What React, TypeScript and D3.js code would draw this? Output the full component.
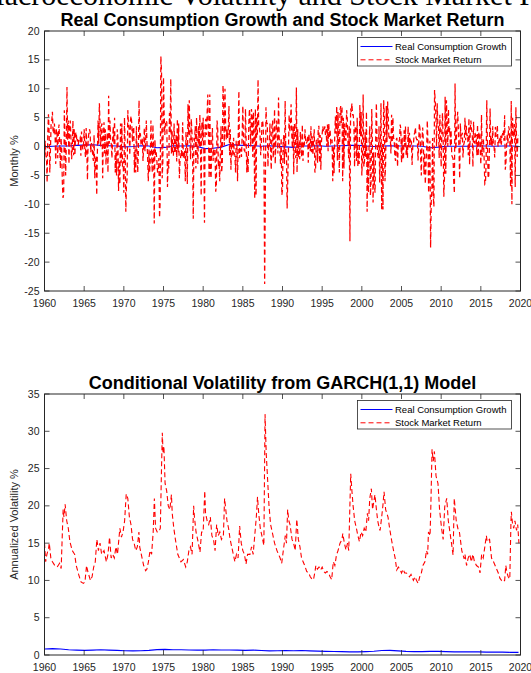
import React from 'react';
import * as d3 from 'd3';

const W = 531;
const H = 673;

const xTicks = [1960, 1965, 1970, 1975, 1980, 1985, 1990, 1995, 2000, 2005, 2010, 2015, 2020];
const topYTicks = [-25, -20, -15, -10, -5, 0, 5, 10, 15, 20];
const botYTicks = [0, 5, 10, 15, 20, 25, 30, 35];
const seriesNames = ['Real Consumption Growth', 'Stock Market Return'];

// Monthly real stock market returns (%), Jan 1960 onwards
const ret1960s = [
  -2.5, 1.0, -1.5, -1.8, -6.2, 2.5, 5.6, 2.4, -4.5, -0.5, 4.0, 4.5,
  6.0, 2.5, 2.2, 4.0, 2.0, -3.0, 3.0, 2.2, -2.0, 2.6, 3.8, 0.2,
  -3.8, 1.5, -0.6, -6.3, -8.9, -8.3, 6.3, 1.5, -5.0, 0.4, 10.3, 1.2,
  4.5, -3.0, 3.4, 4.5, 1.4, -2.2, -0.5, 4.5, -1.5, 3.0, -1.5, 2.2,
  2.5, 0.8, 1.3, 0.3, 1.2, 1.4, 1.6, -1.6, 2.6, 0.5, -0.5, 0.3,
  3.0, -0.5, -1.8, 3.2, -0.7, -5.8, 1.3, 2.2, 3.0, 2.5, -1.0, 0.6,
  0.2, -1.8, -2.5, 2.0, -5.5, -1.9, -1.6, -8.4, -1.0, 4.5, 0.5, 7.5,
  4.0, 0.0, 3.6, 4.0, -5.5, 1.5, 4.2, -1.2, 3.0, -3.2, 0.0, 2.4,
  -4.5, 8.8, 0.5, 4.5, 1.0, 0.5, -2.0, 1.0, 3.5, 0.5, 5.0, -4.5,
  -1.0, -5.0, 3.0, 1.5, -7.7, -2.5, -6.5, 4.0, -2.8, 4.0, -3.5, -2.5,
];
const ret1970s = [
  -8.0, 5.0, 0.0, -11.3, -6.5, -5.5, 6.3, 4.0, 3.0, -1.5, 4.5, 5.3,
  4.0, 0.8, 3.4, 3.2, -4.5, -0.5, -4.5, 3.5, -1.0, -4.5, -0.8, 8.0,
  1.5, 2.3, 0.4, 0.2, 1.5, -2.5, 0.0, 3.2, -0.8, 0.7, 4.5, 0.8,
  -2.0, -6.0, -0.5, -4.5, -2.2, 4.5, -1.0, -4.5, 3.8, -0.5, -13.3, 1.2,
  -1.5, -1.0, -2.5, -4.5, -4.0, -2.0, -12.3, -9.5, 15.6, 13.0, -5.5, -2.8,
  12.0, 5.5, 2.0, 4.2, 4.5, 4.2, -7.0, -2.5, -3.8, 5.8, 2.3, 11.7,
  -1.2, 2.8, -1.5, -1.5, 4.0, -1.2, -0.5, 2.0, -2.6, 4.8, -1.0, 4.0,
  -5.5, -2.5, -1.8, -0.6, -1.8, 4.2, -1.8, -2.0, -0.7, -6.0, 2.5, 0.0,
  -6.5, 7.3, 2.0, 8.0, 0.5, -2.2, 4.8, 2.5, -1.0, -12.5, 1.2, 1.0,
  3.5, -3.8, 5.0, -0.6, -3.0, 3.5, 0.0, 5.5, -0.8, -8.5, 4.2, 1.0,
];
const ret1980s = [
  5.0, -1.2, -13.2, 3.5, 4.8, 2.0, 5.8, 9.0, 2.0, -5.5, 9.0, -4.5,
  -5.5, 1.0, 3.2, -2.5, -0.5, -1.5, -0.6, -7.8, -6.5, 4.5, 3.0, -3.5,
  -2.5, -6.0, -1.3, 3.5, -4.5, -2.5, 10.6, 8.0, 0.2, 10.0, 3.5, 1.2,
  3.0, 1.5, 3.0, 7.0, -1.5, 3.0, -4.0, 0.5, 0.8, -1.8, 1.5, -1.2,
  -1.5, -4.5, 1.0, 0.2, -6.0, 1.5, 9.6, -2.0, -0.5, -0.5, -1.8, 2.0,
  7.0, 0.8, -0.6, -0.8, 6.5, 1.0, -4.5, -1.5, -4.5, 3.8, 6.5, 4.2,
  0.0, 6.5, 5.0, -1.8, 6.0, 1.2, -9.0, 6.5, -8.5, 5.0, 1.8, 11.6,
  3.5, 3.5, 2.0, -1.5, 0.5, 4.5, 4.5, 3.0, -2.8, -23.8, -8.5, 6.8,
  4.0, 4.0, -3.5, 0.5, 0.0, 4.0, -1.0, -4.0, 3.5, 4.5, -2.0, 1.2,
  6.5, -3.0, 1.8, 4.5, 3.5, -1.2, 8.5, 1.5, -0.8, -3.0, 1.5, -8.4,
];
const ret1990s = [
  -7.5, 0.8, 2.0, -3.0, 7.9, -1.2, -0.8, -10.7, -5.5, -0.8, 5.5, 2.5,
  4.0, 7.3, 2.0, -0.3, 3.5, -4.8, 4.0, 2.0, -2.0, 10.2, -4.5, 3.0,
  -2.0, 1.0, -2.2, 2.5, 0.3, -1.8, 3.8, -2.5, 0.8, 0.2, 3.0, 1.0,
  0.5, 0.8, 1.8, -2.8, 2.2, 0.0, -0.8, 3.5, -1.0, 1.8, -1.5, 1.0,
  3.0, -4.5, -4.0, 1.0, 1.2, -2.8, 3.0, 3.6, -2.8, 2.0, -4.0, 1.0,
  2.2, 3.5, 2.6, 2.6, 3.5, 2.0, 3.0, 0.0, 3.8, -0.8, 4.0, 1.5,
  3.0, 0.5, 0.6, 1.2, -6.0, 0.0, -4.6, 1.8, 5.2, 2.2, 7.0, -2.4,
  6.0, 0.3, -4.5, 6.3, 7.0, 4.0, 7.0, -6.0, 5.0, -3.8, 4.0, 1.5,
  1.0, 6.3, 4.8, 0.8, -2.0, 3.5, -16.4, 6.6, 6.0, 7.5, 5.5, 5.5,
  3.8, -3.5, 3.5, 3.5, -2.5, 5.0, -3.5, -0.8, -3.0, 7.2, 1.8, 6.0,
];
const ret2000s = [
  -5.0, -1.5, 9.0, -3.5, -2.5, 2.5, -1.8, 6.0, -11.3, -1.0, -8.0, 0.8,
  3.5, -8.5, -6.0, 6.5, 0.5, -9.7, -1.0, -6.5, -8.0, 1.8, 7.5, 0.8,
  -1.5, -2.0, 3.5, -6.2, -1.0, 7.5, -11.0, 0.5, -10.9, 8.0, 5.5, -6.0,
  -2.8, 7.0, 0.8, 7.8, 5.0, 1.2, 1.5, 1.8, -1.2, 5.5, 0.7, 5.0,
  1.5, 1.0, -1.8, -2.5, 1.2, 1.5, -3.5, 0.0, 0.8, 1.2, 3.8, 3.0,
  -2.8, 1.5, -2.2, -2.2, 2.8, 0.0, 3.5, -1.4, 0.0, -2.0, 3.5, -0.1,
  2.4, -0.2, 1.0, 0.8, -3.2, 0.0, 0.3, 2.0, 2.4, 3.3, 1.6, 1.2,
  1.2, -2.4, 0.8, 4.0, 3.0, -1.9, -5.0, 1.0, 3.3, 1.2, -4.8, -1.0,
  -6.5, -3.5, -0.8, 4.5, 0.8, -8.0, -1.2, 1.0, -17.5, -9.5, -7.5, 1.5,
  -8.5, -10.4, 9.8, 8.0, 5.5, 0.0, 7.5, 3.5, 3.5, -2.0, 5.5, 1.8,
];
const ret2010s = [
  -3.5, 2.9, 5.8, 1.5, -8.7, -5.5, 8.6, -4.7, 8.0, 3.7, 0.0, 6.5,
  2.3, 3.2, 0.0, 2.8, -1.5, -1.8, -2.1, -6.0, -8.1, 10.9, -0.5, 1.0,
  4.4, 6.0, 3.1, -0.7, -5.5, 4.0, 1.3, 2.0, 2.4, -1.9, 0.3, 0.7,
  5.0, 1.1, 3.6, 1.8, 2.1, -1.5, 4.9, -3.1, 3.0, 4.5, 2.8, 2.4,
  -3.5, 4.3, 0.7, 0.6, 2.1, 1.9, -1.5, 3.8, -1.6, 2.3, 2.5, -0.4,
  -3.1, 5.5, -1.7, 0.8, 1.0, -2.1, -6.5, -6.3, -2.6, 8.0, 0.1, -5.5,
  -5.0, -0.4, 6.6, 0.3, 1.5, 0.1, 3.5, 0.0, 0.0, -1.9, 3.4, 1.8,
  1.8, 3.7, 0.0, 0.9, 1.2, 0.5, 1.9, 0.3, 1.9, 2.2, 2.8, 1.0,
  5.4, -4.0, -2.7, 0.3, 2.2, 0.5, 3.5, 3.0, 0.4, -7.0, 7.9, -10.0,
  5.0, 3.0, 1.7, 3.9, -7.0, 6.8, 1.3, -1.8, 1.7, 2.0,
];

// Real consumption growth (%), sampled once per year from 1960
const consGrowth = [
  -0.05, 0.05, 0.1, 0.1, 0.2, 0.25, 0.3, 0.2, 0.15, 0.1,
  -0.05, 0.0, 0.15, 0.1, -0.2, -0.15, 0.15, 0.1, 0.15, 0.0,
  -0.35, -0.3, -0.1, 0.35, 0.25, 0.2, 0.15, 0.05, 0.15, 0.05,
  -0.05, -0.15, 0.1, 0.1, 0.15, 0.05, 0.1, 0.15, 0.2, 0.2,
  0.1, 0.0, 0.1, 0.15, 0.1, 0.1, 0.1, 0.05, -0.2, -0.1,
  0.05, 0.05, 0.05, 0.05, 0.1, 0.1, 0.05, 0.1, 0.1, 0.05,
];

// GARCH(1,1) annualized volatility of stock returns (%)
const garchStockT = [
  1960.0, 1960.15, 1960.3, 1960.5, 1960.6, 1960.8, 1961.0, 1961.3, 1961.6, 1961.9,
  1962.1, 1962.35, 1962.45, 1962.6, 1962.8, 1963.0, 1963.2, 1963.5, 1963.8, 1964.0,
  1964.3, 1964.6, 1964.9, 1965.1, 1965.3, 1965.5, 1965.8, 1966.0, 1966.2, 1966.4,
  1966.6, 1966.8, 1967.0, 1967.2, 1967.5, 1967.8, 1968.0, 1968.2, 1968.4, 1968.6,
  1968.8, 1969.0, 1969.2, 1969.5, 1969.7, 1969.9, 1970.1, 1970.3, 1970.5, 1970.7,
  1970.9, 1971.1, 1971.3, 1971.5, 1971.7, 1971.9, 1972.0, 1972.3, 1972.5, 1972.75,
  1972.9, 1973.1, 1973.3, 1973.5, 1973.7, 1973.85, 1974.0, 1974.2, 1974.4, 1974.6,
  1974.75, 1974.85, 1974.95, 1975.05, 1975.2, 1975.4, 1975.6, 1975.8, 1976.0, 1976.1,
  1976.3, 1976.5, 1976.8, 1977.0, 1977.2, 1977.5, 1977.8, 1978.0, 1978.2, 1978.4,
  1978.6, 1978.8, 1978.9, 1979.1, 1979.3, 1979.6, 1979.8, 1980.0, 1980.2, 1980.3,
  1980.5, 1980.7, 1980.9, 1981.1, 1981.3, 1981.5, 1981.7, 1981.9, 1982.1, 1982.3,
  1982.55, 1982.7, 1982.85, 1983.0, 1983.2, 1983.4, 1983.6, 1983.8, 1984.0, 1984.2,
  1984.4, 1984.6, 1984.8, 1985.0, 1985.2, 1985.4, 1985.6, 1985.9, 1986.1, 1986.3,
  1986.5, 1986.7, 1986.85, 1987.0, 1987.2, 1987.4, 1987.65, 1987.8, 1987.95, 1988.1,
  1988.3, 1988.5, 1988.8, 1989.0, 1989.3, 1989.5, 1989.7, 1989.9, 1990.1, 1990.35,
  1990.5, 1990.65, 1990.8, 1990.95, 1991.2, 1991.4, 1991.6, 1991.8, 1992.0, 1992.2,
  1992.4, 1992.6, 1992.8, 1993.05, 1993.3, 1993.5, 1993.7, 1993.9, 1994.1, 1994.2,
  1994.4, 1994.6, 1994.8, 1995.0, 1995.2, 1995.4, 1995.6, 1995.8, 1996.0, 1996.2,
  1996.4, 1996.6, 1996.8, 1997.0, 1997.25, 1997.5, 1997.6, 1997.8, 1998.0, 1998.2,
  1998.35, 1998.6, 1998.75, 1998.9, 1999.1, 1999.35, 1999.5, 1999.7, 1999.9, 2000.1,
  2000.3, 2000.5, 2000.7, 2000.85, 2001.0, 2001.2, 2001.35, 2001.5, 2001.65, 2001.85,
  2002.0, 2002.2, 2002.3, 2002.5, 2002.65, 2002.8, 2003.0, 2003.3, 2003.5, 2003.75,
  2004.0, 2004.2, 2004.4, 2004.6, 2004.8, 2005.0, 2005.2, 2005.4, 2005.6, 2005.8,
  2006.0, 2006.2, 2006.5, 2006.7, 2006.9, 2007.1, 2007.3, 2007.5, 2007.7, 2007.95,
  2008.15, 2008.3, 2008.4, 2008.6, 2008.7, 2008.85, 2009.0, 2009.15, 2009.35, 2009.6,
  2009.8, 2010.05, 2010.25, 2010.45, 2010.7, 2010.9, 2011.1, 2011.3, 2011.5, 2011.65,
  2011.9, 2012.1, 2012.3, 2012.6, 2012.9, 2013.0, 2013.2, 2013.4, 2013.6, 2013.8,
  2014.0, 2014.2, 2014.45, 2014.7, 2014.9, 2015.1, 2015.3, 2015.5, 2015.7, 2015.8,
  2016.1, 2016.35, 2016.6, 2016.8, 2017.0, 2017.2, 2017.4, 2017.6, 2017.8, 2018.0,
  2018.15, 2018.3, 2018.45, 2018.65, 2018.8, 2018.85, 2019.0, 2019.15, 2019.3, 2019.5,
  2019.65, 2019.8,
];
const garchStock = [
  15, 12.5, 13.5, 14.2, 15, 13, 12.5, 12.0, 11.8, 12.3,
  11.6, 19.5, 18.5, 20.2, 18, 17, 15.2, 14, 13.5, 12,
  10.8, 9.8, 9.6, 9.8, 12.0, 11, 10, 10.5, 11.8, 12.5,
  15.5, 14, 15, 13.5, 14, 12.5, 13.5, 15.8, 13, 13.5,
  13, 14.5, 13.5, 17, 15.8, 16.5, 18, 21.6, 21, 18.5,
  17.5, 15.5, 15, 14, 14.5, 16.5, 14.5, 13, 12, 11.3,
  11.5, 12.5, 14, 13.5, 16.5, 21, 17, 16.5, 16.5, 17,
  25, 29.8, 27, 28, 23, 22, 20, 19.5, 21.5, 19,
  17, 15.5, 13.5, 13, 12.5, 12.8, 11.8, 12.5, 14, 14.5,
  13.5, 20, 18.5, 16.5, 15.5, 13.8, 16.5, 16.5, 22, 19,
  18, 17.5, 18.5, 16, 15.5, 14, 17.5, 16, 16.5, 15.5,
  16, 21, 19.5, 18, 17, 15.5, 14.5, 13.5, 12.5, 13.5,
  13, 17.3, 15, 14, 13.5, 12.2, 13.5, 13.5, 14.5, 13.5,
  16, 18.5, 21.2, 19, 17, 16, 14.7, 32.3, 27, 24,
  20, 17.5, 16, 15, 14, 13.5, 13, 12.3, 14, 16,
  15, 19.5, 18, 17.5, 15.5, 15, 14, 18.2, 15.5, 14.5,
  13, 12.5, 12, 11.2, 11, 10.5, 10.2, 10.1, 11.2, 12,
  11.5, 11.8, 11.4, 11.8, 11.2, 11, 11.2, 11, 10.5, 10.1,
  12.5, 12, 13.4, 14, 15, 15.5, 16.3, 15, 14.1, 15,
  14, 24.3, 22, 20, 18, 16.8, 16, 15.2, 16.5, 16,
  17, 16.5, 19, 18, 21, 22.3, 19.5, 20.5, 21.5, 19.4,
  18, 17, 16.7, 18.5, 20, 21.9, 19.5, 18.5, 17, 15.4,
  14, 13, 11.4, 11.8, 11.5, 11, 11.5, 11, 11, 10.8,
  10.5, 10.8, 10, 10.5, 10, 9.6, 10.5, 11, 12, 12.5,
  14, 13.5, 16.5, 16, 20, 27.6, 26, 27.3, 24, 23,
  19.5, 17, 15.5, 19.9, 21, 18, 16.5, 15, 13.4, 21,
  18, 17, 16.5, 14, 12.9, 13.5, 12, 13, 13.5, 12.5,
  13.5, 12.5, 12, 11.8, 11, 13.5, 13, 14.5, 16, 15.2,
  15.5, 13, 12.5, 12, 11.5, 11, 10.3, 10, 9.8, 10,
  12, 11, 10.5, 10.2, 18, 19.2, 17.5, 17, 18, 16.7,
  17.5, 15,
];

// GARCH(1,1) annualized volatility of consumption growth (%), once per year from 1960
const garchCons = [
  0.8, 0.85, 0.8, 0.7, 0.65, 0.62, 0.65, 0.7, 0.65, 0.62,
  0.58, 0.55, 0.58, 0.62, 0.72, 0.75, 0.7, 0.7, 0.68, 0.66,
  0.65, 0.7, 0.68, 0.68, 0.66, 0.62, 0.66, 0.6, 0.55, 0.58,
  0.6, 0.58, 0.6, 0.55, 0.52, 0.48, 0.46, 0.45, 0.42, 0.42,
  0.45, 0.5, 0.6, 0.62, 0.55, 0.48, 0.45, 0.45, 0.48, 0.48,
  0.45, 0.42, 0.42, 0.42, 0.42, 0.38, 0.38, 0.38, 0.35, 0.35,
];

const FONT = '"Liberation Sans", Arial, Helvetica, sans-serif';
const AX = '#262626';

type Pt = [number, number];

const stockReturns = [...ret1960s, ...ret1970s, ...ret1980s, ...ret1990s, ...ret2000s, ...ret2010s];
const stockPts: Pt[] = stockReturns.map((v, i) => [1960 + i / 12, v]);
const lastT = 1960 + (stockReturns.length - 1) / 12;
const annualT = (n: number, i: number) => 1960 + (i * (lastT - 1960)) / (n - 1);
const consPts: Pt[] = consGrowth.map((v, i) => [annualT(consGrowth.length, i), v]);
const garchStockPts: Pt[] = garchStock.map((v, i) => [garchStockT[i], v]);
const garchConsPts: Pt[] = garchCons.map((v, i) => [annualT(garchCons.length, i), v]);

const X0 = 44.5;
const X1 = 520.5;

function Panel(props: {
  top: number;
  bottom: number;
  domain: [number, number];
  yTicks: number[];
  title: string;
  ylabel: string;
  blue: Pt[];
  red: Pt[];
  id: string;
  redWidth: number;
}) {
  const { top, bottom, domain, yTicks, title, ylabel, blue, red, id, redWidth } = props;
  const x = d3.scaleLinear().domain([1960, 2020]).range([X0, X1]);
  const y = d3.scaleLinear().domain(domain).range([bottom, top]);
  const line = d3
    .line<Pt>()
    .x((d) => x(d[0]))
    .y((d) => y(d[1]));
  const tl = 5;
  const lgX0 = 357.5;
  const lgX1 = 511.5;
  const lgY0 = top + 6.5;
  const lgY1 = top + 35;
  return (
    <g>
      <defs>
        <clipPath id={id}>
          <rect x={X0} y={top} width={X1 - X0} height={bottom - top} />
        </clipPath>
      </defs>
      <rect x={X0} y={top} width={X1 - X0} height={bottom - top} fill="#fff" />
      <g clipPath={`url(#${id})`}>
        <path d={line(blue) || ''} fill="none" stroke="#0000ff" strokeWidth={1.1} />
        <path d={line(red) || ''} fill="none" stroke="#ff0000" strokeWidth={redWidth} strokeDasharray="5,3" />
      </g>
      {xTicks.map((t) => (
        <g key={'x' + t}>
          <line x1={x(t)} x2={x(t)} y1={bottom} y2={bottom - tl} stroke={AX} strokeWidth={0.8} />
          <line x1={x(t)} x2={x(t)} y1={top} y2={top + tl} stroke={AX} strokeWidth={0.8} />
          <text x={x(t)} y={bottom + 15.5} textAnchor="middle" fontSize={10.5} fill={AX} fontFamily={FONT}>
            {t}
          </text>
        </g>
      ))}
      {yTicks.map((t) => (
        <g key={'y' + t}>
          <line x1={X0} x2={X0 + tl} y1={y(t)} y2={y(t)} stroke={AX} strokeWidth={0.8} />
          <line x1={X1} x2={X1 - tl} y1={y(t)} y2={y(t)} stroke={AX} strokeWidth={0.8} />
          <text x={X0 - 5} y={y(t) + 3.5} textAnchor="end" fontSize={10.5} fill={AX} fontFamily={FONT}>
            {t}
          </text>
        </g>
      ))}
      <rect x={X0} y={top} width={X1 - X0} height={bottom - top} fill="none" stroke={AX} strokeWidth={1} />
      <text
        x={(X0 + X1) / 2}
        y={top - 5}
        textAnchor="middle"
        fontSize={18}
        fontWeight="bold"
        fill="#000"
        fontFamily={FONT}
      >
        {title}
      </text>
      <text
        transform={`translate(18,${(top + bottom) / 2}) rotate(-90)`}
        textAnchor="middle"
        fontSize={11}
        fill={AX}
        fontFamily={FONT}
      >
        {ylabel}
      </text>
      <rect x={lgX0} y={lgY0} width={lgX1 - lgX0} height={lgY1 - lgY0} fill="#fff" stroke={AX} strokeWidth={0.8} />
      {seriesNames.map((n, i) => {
        const cy = lgY0 + 9 + i * 13.3;
        return (
          <g key={n}>
            <line
              x1={lgX0 + 3}
              x2={lgX0 + 35}
              y1={cy}
              y2={cy}
              stroke={i === 0 ? '#0000ff' : '#ff0000'}
              strokeWidth={1}
              strokeDasharray={i === 0 ? undefined : '5,3'}
            />
            <text x={lgX0 + 37.5} y={cy + 3.5} fontSize={9.5} fill="#000" fontFamily={FONT}>
              {n}
            </text>
          </g>
        );
      })}
    </g>
  );
}

export default function App() {
  return (
    <svg
      width={W}
      height={H}
      viewBox={`0 0 ${W} ${H}`}
      style={{ position: 'absolute', left: 0, top: 0, background: '#fff' }}
    >
      <rect x={0} y={0} width={W} height={H} fill="#fff" />
      <text x={-22} y={5} fontSize={30} fill="#000" fontFamily='"Liberation Serif", "DejaVu Serif", serif'>
        Macroeconomic Volatility and Stock Market Returns
      </text>
      <Panel
        id="clipTop"
        top={31}
        bottom={291}
        domain={[-25, 20]}
        yTicks={topYTicks}
        title="Real Consumption Growth and Stock Market Return"
        ylabel="Monthly %"
        blue={consPts}
        red={stockPts}
        redWidth={1.25}
      />
      <Panel
        id="clipBot"
        top={394}
        bottom={655}
        domain={[0, 35]}
        yTicks={botYTicks}
        title="Conditional Volatility from GARCH(1,1) Model"
        ylabel="Annualized Volatility %"
        blue={garchConsPts}
        red={garchStockPts}
        redWidth={1.1}
      />
    </svg>
  );
}
